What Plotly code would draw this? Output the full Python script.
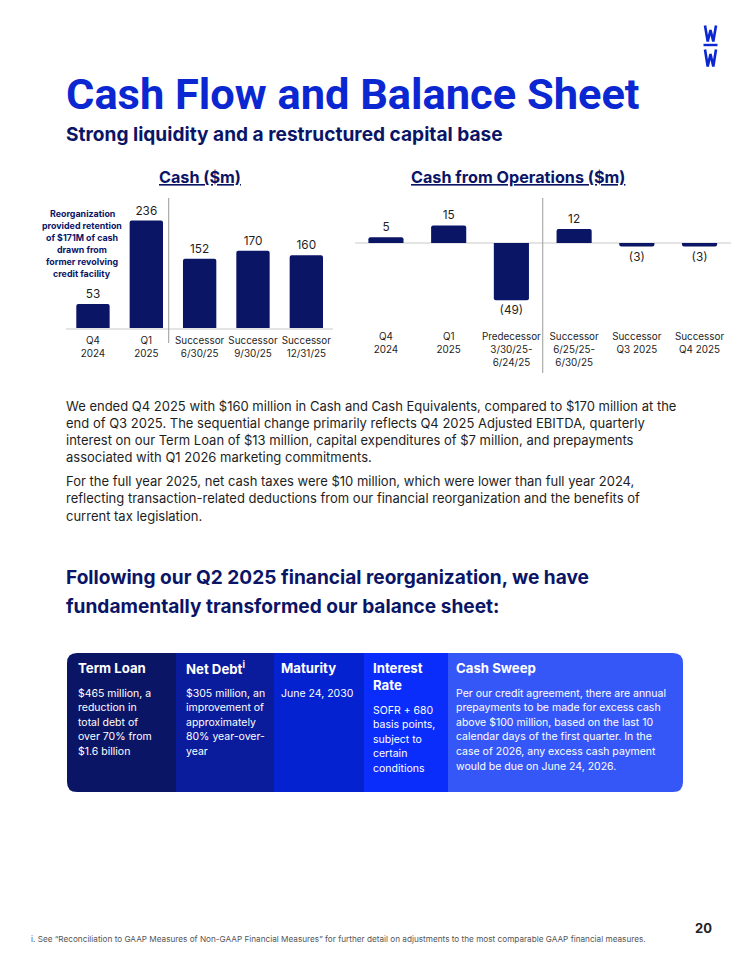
import plotly.graph_objects as go

W, H = 742, 960

# ---------------- data ----------------
cash_categories = ["Q4<br>2024", "Q1<br>2025", "Successor<br>6/30/25",
                   "Successor<br>9/30/25", "Successor<br>12/31/25"]
cash_values = [53, 236, 152, 170, 160]

ops_categories = ["Q4<br>2024", "Q1<br>2025", "Predecessor<br>3/30/25-<br>6/24/25",
                  "Successor<br>6/25/25-<br>6/30/25", "Successor<br>Q3 2025",
                  "Successor<br>Q4 2025"]
ops_values = [5, 15, -49, 12, -3, -3]

cash_note = ["Reorganization", "provided retention", "of $171M of cash",
             "drawn from", "former revolving", "credit facility"]

para1 = ["We ended Q4 2025 with $160 million in Cash and Cash Equivalents, compared to $170 million at the",
         "end of Q3 2025. The sequential change primarily reflects Q4 2025 Adjusted EBITDA, quarterly",
         "interest on our Term Loan of $13 million, capital expenditures of $7 million, and prepayments",
         "associated with Q1 2026 marketing commitments."]
para2 = ["For the full year 2025, net cash taxes were $10 million, which were lower than full year 2024,",
         "reflecting transaction-related deductions from our financial reorganization and the benefits of",
         "current tax legislation."]
heading = ["Following our Q2 2025 financial reorganization, we have",
           "fundamentally transformed our balance sheet:"]

box_headers = [["Term Loan"], ["Net Debt<sup>i</sup>"], ["Maturity"], ["Interest", "Rate"], ["Cash Sweep"]]
box_bodies = [
    ["$465 million, a", "reduction in", "total debt of", "over 70% from", "$1.6 billion"],
    ["$305 million, an", "improvement of", "approximately", "80% year-over-", "year"],
    ["June 24, 2030"],
    ["SOFR + 680", "basis points,", "subject to", "certain", "conditions"],
    ["Per our credit agreement, there are annual",
     "prepayments to be made for excess cash",
     "above $100 million, based on the last 10",
     "calendar days of the first quarter. In the",
     "case of 2026, any excess cash payment",
     "would be due on June 24, 2026."],
]
footnote = ("i. See \u201cReconciliation to GAAP Measures of Non-GAAP Financial Measures\u201d for further "
            "detail on adjustments to the most comparable GAAP financial measures.")

# ---------------- styles ----------------
FONT = "Inter"
TITLE_FONT = "Roboto"
BLUE = "#0b27d2"
NAVY = "#0b1566"
TXT = "#1e1e1e"
BOX_COLORS = ["#0b1566", "#0a1b9b", "#0422d0", "#0a2dfb", "#3657f7"]
PAD = 3.5  # annotation inner padding compensation for left-anchored texts


def px(x):
    return x / W


def py(y):
    return 1 - y / H


fig = go.Figure()

# Cash chart geometry
cash_zero, cash_scale, cash_max = 328, 0.455, 260
# Ops chart geometry
ops_zero, ops_scale, ops_min, ops_max = 243, 1.17, -70, 20

fig.add_trace(go.Bar(
    x=cash_categories, y=cash_values, xaxis="x", yaxis="y",
    width=0.625, marker=dict(color=NAVY, cornerradius=2, line=dict(width=0)),
    text=[str(v) for v in cash_values], textposition="outside",
    textfont=dict(family=FONT, size=11.8, color=TXT), cliponaxis=False,
    hoverinfo="skip"))

fig.add_trace(go.Bar(
    x=ops_categories, y=ops_values, xaxis="x2", yaxis="y2",
    width=0.56, marker=dict(color=NAVY, cornerradius=2, line=dict(width=0)),
    text=[f"({abs(v)})" if v < 0 else str(v) for v in ops_values], textposition="outside",
    textfont=dict(family=FONT, size=11.8, color=TXT), cliponaxis=False,
    hoverinfo="skip"))

shapes = []
ann = []


def txt(x, y, text, size, color=TXT, bold=False, xanchor="left", family=FONT, **font_extra):
    if xanchor == "left":
        x = x - PAD
    ann.append(dict(x=x, y=y, xref="x3", yref="y3", text=text, showarrow=False,
                    xanchor=xanchor, yanchor="middle",
                    font=dict(family=family, size=size, color=color,
                              weight=700 if bold else 400, **font_extra)))


# separators
shapes.append(dict(type="line", xref="x", yref="y3", x0=1.42, x1=1.42, y0=198, y1=343,
                   line=dict(color="#9a9a9a", width=1)))
shapes.append(dict(type="line", xref="x2", yref="y3", x0=2.5, x1=2.5, y0=198, y1=373,
                   line=dict(color="#9a9a9a", width=1)))

# balance-sheet box
bx = [67, 176, 274, 364, 448, 683]
top, bot, r = 653, 792, 10
for i, col in enumerate(BOX_COLORS):
    x0, x1 = bx[i], bx[i + 1]
    if i == 0:
        path = (f"M {x0+r},{top} L {x1},{top} L {x1},{bot} L {x0+r},{bot} "
                f"Q {x0},{bot} {x0},{bot-r} L {x0},{top+r} Q {x0},{top} {x0+r},{top} Z")
    elif i == len(BOX_COLORS) - 1:
        path = (f"M {x0},{top} L {x1-r},{top} Q {x1},{top} {x1},{top+r} L {x1},{bot-r} "
                f"Q {x1},{bot} {x1-r},{bot} L {x0},{bot} Z")
    else:
        path = f"M {x0},{top} L {x1},{top} L {x1},{bot} L {x0},{bot} Z"
    shapes.append(dict(type="path", xref="x3", yref="y3", path=path,
                       fillcolor=col, line=dict(width=0), layer="below"))


# logo
def wpath(y0, y1):
    return f"M 705,{y0} L 707.7,{y1} L 710.5,{y0+4.5} L 713.3,{y1} L 716,{y0}"


shapes.append(dict(type="path", xref="x3", yref="y3", path=wpath(25.5, 41.5),
                   line=dict(color=BLUE, width=2.6)))
shapes.append(dict(type="line", xref="x3", yref="y3", x0=703.5, x1=717.5, y0=45, y1=45,
                   line=dict(color=BLUE, width=2.4)))
shapes.append(dict(type="path", xref="x3", yref="y3", path=wpath(49.5, 66.5),
                   line=dict(color=BLUE, width=2.6)))

# titles
txt(67, 94, "Cash Flow and Balance Sheet", 43.4, BLUE, bold=True, family=TITLE_FONT)
txt(67, 134, "Strong liquidity and a restructured capital base", 19.1, NAVY, bold=True)
txt(200, 177, "Cash ($m)", 16.2, NAVY, bold=True, xanchor="center", lineposition="under")
txt(518, 177, "Cash from Operations ($m)", 16.2, NAVY, bold=True, xanchor="center",
    lineposition="under")

# note in cash chart
for i, line in enumerate(cash_note):
    txt(82, 213 + i * 12.1, line, 8.9, NAVY, bold=True, xanchor="center")

# paragraphs
for i, line in enumerate(para1):
    txt(67, 406 + i * 17.1, line, 13, TXT)
for i, line in enumerate(para2):
    txt(67, 481 + i * 17.4, line, 13, TXT)
for i, line in enumerate(heading):
    txt(67, 577 + i * 29, line, 19.1, NAVY, bold=True)

# box text
col_x = [79, 187, 282, 374, 457]
for c in range(5):
    for j, h in enumerate(box_headers[c]):
        txt(col_x[c], 668 + j * 16.5, h, 13.2, "white", bold=True)
    start = 693 if len(box_headers[c]) == 1 else 710
    for j, line in enumerate(box_bodies[c]):
        txt(col_x[c], start + j * 14.6, line, 10.5, "white")

# footer
txt(32, 939, footnote, 8.2, "#555555")
txt(703, 928, "20", 13, "#222222", bold=True, xanchor="center")

axis_common = dict(showgrid=False, zeroline=False, fixedrange=True)

fig.update_layout(
    width=W, height=H, margin=dict(l=0, r=0, t=0, b=0),
    paper_bgcolor="white", plot_bgcolor="rgba(0,0,0,0)",
    showlegend=False, shapes=shapes, annotations=ann,
    font=dict(family=FONT),
    xaxis=dict(domain=[px(66.3), px(333)], type="category", categoryarray=cash_categories,
               showline=True, linecolor="#e4e4e4", linewidth=2, ticks="",
               tickfont=dict(family=FONT, size=9.9, color=TXT), ticklabelstandoff=2,
               anchor="y", **axis_common),
    yaxis=dict(domain=[py(cash_zero), py(cash_zero - cash_max * cash_scale)],
               range=[0, cash_max], visible=False, anchor="x", **axis_common),
    xaxis2=dict(domain=[px(354.6), px(730.9)], type="category", categoryarray=ops_categories,
                showline=False, ticks="", tickfont=dict(family=FONT, size=9.9, color=TXT),
                ticklabelstandoff=4, anchor="y2", **axis_common),
    yaxis2=dict(domain=[py(ops_zero - ops_min * ops_scale), py(ops_zero - ops_max * ops_scale)],
                range=[ops_min, ops_max], visible=True, showticklabels=False, showline=False,
                anchor="x2", showgrid=False, zeroline=True, zerolinecolor="#e4e4e4",
                zerolinewidth=2, fixedrange=True),
    xaxis3=dict(domain=[0, 1], range=[0, W], visible=False, anchor="y3", **axis_common),
    yaxis3=dict(domain=[0, 1], range=[H, 0], visible=False, anchor="x3", **axis_common),
)

fig.write_html("out.html", config={"displayModeBar": False, "staticPlot": True},
               post_script="document.body.style.margin='0';document.body.style.padding='0';")
